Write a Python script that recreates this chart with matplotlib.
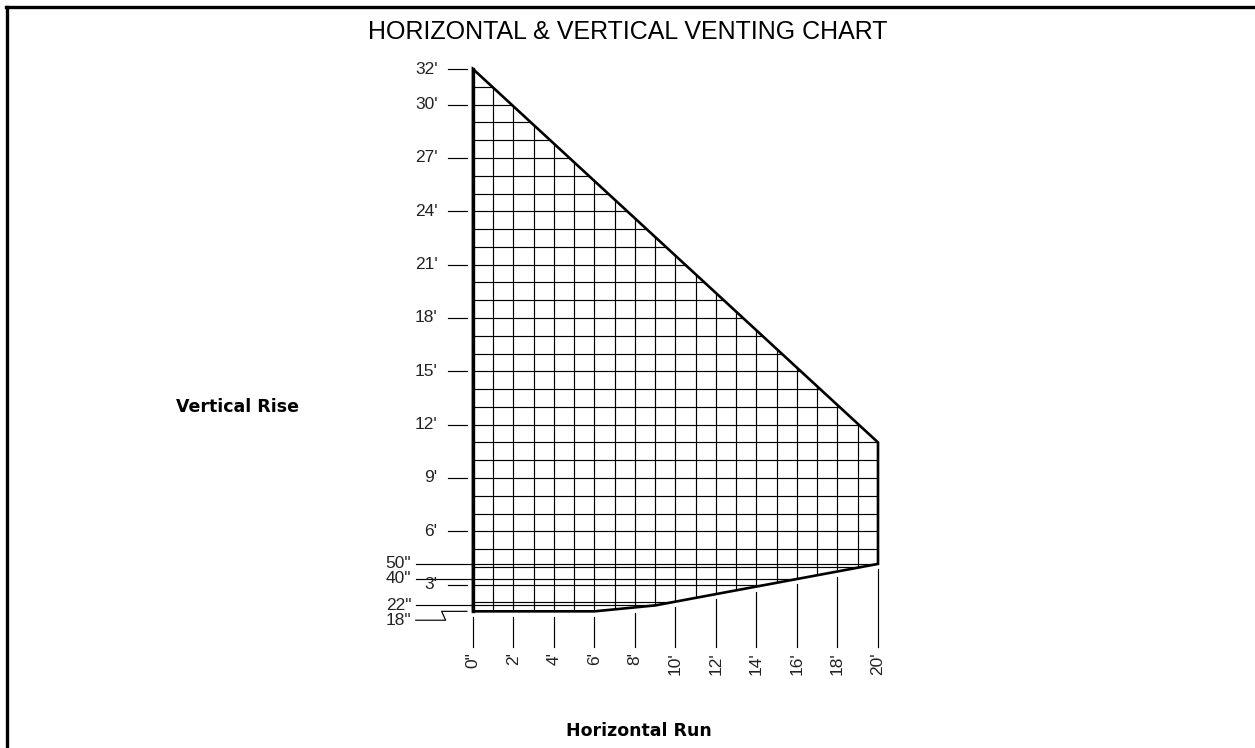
import numpy as np
import matplotlib.pyplot as plt
from matplotlib.patches import Polygon
from matplotlib.lines import Line2D

# venting limits, run in feet, rise in feet / inches
upper_run = [0, 20]
upper_rise_ft = [32, 11]
lower_run = [0, 6, 9, 20]
lower_rise_in = [18, 18, 22, 50]

rise_ticks = [32, 30, 27, 24, 21, 18, 15, 12, 9, 6, 3]
rise_labels = ["32'", "30'", "27'", "24'", "21'", "18'", "15'", "12'", "9'", "6'", "3'"]
inch_marks = [50, 40, 22, 18]
inch_labels = ['50"', '40"', '22"', '18"']
run_ticks = [0, 2, 4, 6, 8, 10, 12, 14, 16, 18, 20]
run_labels = ['0"', "2'", "4'", "6'", "8'", "10'", "12'", "14'", "16'", "18'", "20'"]

plt.rcParams['font.family'] = ['Liberation Sans', 'DejaVu Sans']

W, H = 1255, 748
fig = plt.figure(figsize=(W / 100, H / 100), dpi=100)
ax = fig.add_axes([0, 0, 1, 1])
ax.axis('off')

# pixel mapping of the original drawing: x0=473px, 20.25 px/ft ; y0=638px, 17.78 px/ft
px_ft_x, px_ft_y = 20.25, 17.78
x0, y0 = 473, 638
ax.set_xlim(-x0 / px_ft_x, (W - x0) / px_ft_x)
ax.set_ylim((y0 - H) / px_ft_y, y0 / px_ft_y)

lower_rise = [v / 12 for v in lower_rise_in]
outline = [(0, lower_rise[0]), (0, upper_rise_ft[0]), (upper_run[1], upper_rise_ft[1])] + \
    list(zip(lower_run, lower_rise))[::-1]
poly = Polygon(outline, closed=True, fill=False, edgecolor='black', lw=1.9, zorder=5,
               joinstyle='miter')
ax.add_patch(poly)

clip = Polygon(outline, closed=True, transform=ax.transData, visible=False)
ax.add_patch(clip)

# grid inside the chart area
for x in range(1, 20):
    ln, = ax.plot([x, x], [0, 33], color='black', lw=0.85)
    ln.set_clip_path(clip)
for y in range(1, 32):
    ln, = ax.plot([0, 20], [y, y], color='black', lw=0.85)
    ln.set_clip_path(clip)
for v in inch_marks[:3]:
    ln, = ax.plot([0, 20], [v / 12, v / 12], color='black', lw=0.85)
    ln.set_clip_path(clip)

# heavier left edge
ax.plot([0, 0], [lower_rise[0], upper_rise_ft[0]], color='black', lw=2.4, zorder=6)

lab_kw = dict(fontsize=12.5, color='#222222')

# rise ticks and labels
for v, lab in zip(rise_ticks, rise_labels):
    ax.plot([-1.23, -0.3], [v, v], color='black', lw=0.85)
    ax.text(-1.75, v, lab, ha='right', va='center', **lab_kw)

# inch marks with leader lines
for v, lab in zip(inch_marks, inch_labels):
    y = v / 12
    if v == 18:
        ax.plot([-2.83, -1.35, -1.55, -0.3], [y - 0.5, y - 0.5, y, y], color='black', lw=0.85)
        ax.text(-3.05, y - 0.5, lab, ha='right', va='center', **lab_kw)
    else:
        ax.plot([-2.83, 0], [y, y], color='black', lw=0.85)
        ax.text(-3.05, y, lab, ha='right', va='center', **lab_kw)

# run ticks and labels
for x, lab in zip(run_ticks, run_labels):
    yb = np.interp(x, lower_run, lower_rise)
    ax.plot([x, x], [yb - 0.3, -0.5], color='black', lw=0.85)
    ax.text(x, -0.8, lab, ha='center', va='top', rotation=90, **lab_kw)

fig.text(628 / W, 1 - 32 / H, 'HORIZONTAL & VERTICAL VENTING CHART', ha='center', va='center',
         fontsize=18)
fig.text(238 / W, 1 - 407 / H, 'Vertical Rise', ha='center', va='center', fontsize=12.5,
         fontweight='bold', family='DejaVu Sans')
fig.text(639 / W, 1 - 731 / H, 'Horizontal Run', ha='center', va='center', fontsize=12.5,
         fontweight='bold', family='DejaVu Sans')

# page frame (left and top edges)
fig.add_artist(Line2D([7 / W, 7 / W], [0, 1 - 7 / H], color='black', lw=2.4))
fig.add_artist(Line2D([5.8 / W, 1], [1 - 7 / H, 1 - 7 / H], color='black', lw=2.4))

fig.savefig('out.png', dpi=100)
